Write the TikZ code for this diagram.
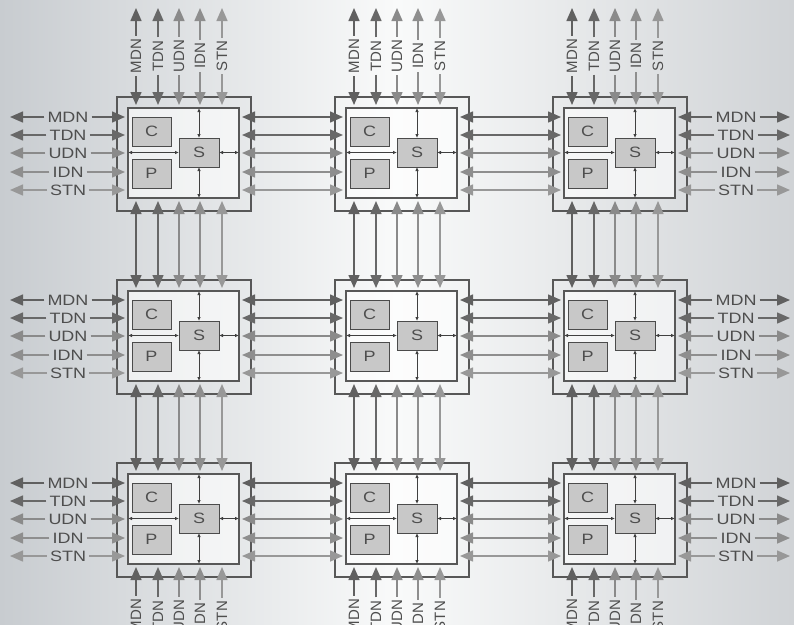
\documentclass[tikz,border=0pt]{standalone}
\usepackage{fontspec}
\usepackage{tikz}
\usetikzlibrary{arrows.meta,calc}
\newfontfamily\widefont{Liberation Sans}[FakeStretch=1.2]
\newfontfamily\plainfont{Liberation Sans}
\definecolor{bgedge}{RGB}{200,204,208}
\definecolor{bgedgeright}{RGB}{208,211,214}
\definecolor{bgmid}{RGB}{249,250,250}
\definecolor{framegray}{RGB}{88,88,88}
\definecolor{unitfill}{RGB}{200,200,200}
\definecolor{textgray}{RGB}{78,78,78}
\definecolor{ch0}{RGB}{96,96,96}
\definecolor{ch1}{RGB}{104,104,104}
\definecolor{ch2}{RGB}{138,138,138}
\definecolor{ch3}{RGB}{142,142,142}
\definecolor{ch4}{RGB}{152,152,152}

\tikzset{
  tileframe/.style={draw=framegray, line width=1.5pt, minimum width=134pt, minimum height=114pt,
    anchor=north west, inner sep=0pt, outer sep=0pt},
  tilecore/.style={draw=framegray, line width=1.3pt, fill=white, fill opacity=0.6,
    minimum width=111pt, minimum height=90pt, anchor=north west, inner sep=0pt, outer sep=0pt},
  unitbox/.style={draw=framegray!85!black, line width=1pt, fill=unitfill, text=textgray,
    font=\widefont\fontsize{15}{15}\selectfont, minimum width=39pt, minimum height=29pt,
    anchor=north west, inner sep=0pt, outer sep=0pt},
  chan/.style={line width=1.5pt, {Triangle[length=13pt,width=11pt]}-{Triangle[length=13pt,width=11pt]}},
  halfchan/.style={line width=1.5pt, -{Triangle[length=13pt,width=11pt]}},
  link/.style={draw=black!75, line width=0.9pt, {Latex[length=4pt,width=3.5pt]}-{Latex[length=4pt,width=3.5pt]}},
  sidelabel/.style={text=textgray, font=\widefont\fontsize{15}{15}\selectfont, inner sep=3pt},
  uplabel/.style={text=textgray, font=\plainfont\fontsize{15}{15}\selectfont, inner sep=3pt, rotate=90}
}

\begin{document}
\begin{tikzpicture}[x=1pt,y=-1pt]
  \useasboundingbox (0,0) rectangle (794,624);
  \clip (0,0) rectangle (794,624);
  \shade[left color=bgedge, right color=bgedgeright, middle color=bgmid] (0,0) rectangle (794,624);

  % tiles of the mesh
  \foreach \i in {0,1,2}{
    \foreach \j in {0,1,2}{
      \pgfmathsetmacro\tx{117+218*\i}
      \pgfmathsetmacro\ty{97+183*\j}
      \node[tileframe] (frame-\i-\j) at (\tx,\ty) {};
      \node[tilecore] (core-\i-\j) at (\tx+11,\ty+11) {};
      \node[unitbox] (C-\i-\j) at (\tx+15,\ty+20) {C};
      \node[unitbox] (P-\i-\j) at (\tx+15,\ty+62) {P};
      \node[unitbox, minimum width=40pt] (S-\i-\j) at (\tx+62,\ty+41) {S};
      \draw[link] (S-\i-\j.west -| core-\i-\j.west) -- (S-\i-\j.west);
      \draw[link] (S-\i-\j.east) -- (S-\i-\j.east -| core-\i-\j.east);
      \draw[link] (S-\i-\j.north) -- (S-\i-\j.north |- core-\i-\j.north);
      \draw[link] (S-\i-\j.south) -- (S-\i-\j.south |- core-\i-\j.south);
      \foreach \k/\cx/\cy in {0/19/20,1/41/38,2/62/56,3/83/75,4/105/93}{
        \coordinate (top-\i-\j-\k) at (\tx+\cx,\ty+8);
        \coordinate (bot-\i-\j-\k) at (\tx+\cx,\ty+104);
        \coordinate (lft-\i-\j-\k) at (\tx+8,\ty+\cy);
        \coordinate (rgt-\i-\j-\k) at (\tx+125,\ty+\cy);
      }
    }
  }

  % links between neighbouring tiles
  \foreach \k in {0,...,4}{
    \foreach \i/\ii in {0/1,1/2}{
      \foreach \j in {0,1,2}{
        \draw[chan, color=ch\k] (rgt-\i-\j-\k) -- (lft-\ii-\j-\k);
        \draw[chan, color=ch\k] (bot-\j-\i-\k) -- (top-\j-\ii-\k);
      }
    }
  }

  % networks leaving the mesh
  \foreach \k/\nm/\cx/\cy in {0/MDN/19/20,1/TDN/41/38,2/UDN/62/56,3/IDN/83/75,4/STN/105/93}{
    \foreach \j in {0,1,2}{
      \pgfmathsetmacro\ty{97+183*\j}
      \node[sidelabel] (west-\j-\k) at (68,\ty+\cy) {\nm};
      \coordinate (westend-\j-\k) at (10,\ty+\cy);
      \draw[halfchan, color=ch\k] (west-\j-\k) -- (westend-\j-\k);
      \draw[halfchan, color=ch\k] (west-\j-\k) -- (lft-0-\j-\k);
      \node[sidelabel] (east-\j-\k) at (736,\ty+\cy) {\nm};
      \coordinate (eastend-\j-\k) at (790,\ty+\cy);
      \draw[halfchan, color=ch\k] (east-\j-\k) -- (eastend-\j-\k);
      \draw[halfchan, color=ch\k] (east-\j-\k) -- (rgt-2-\j-\k);
    }
    \foreach \i in {0,1,2}{
      \pgfmathsetmacro\tx{117+218*\i}
      \node[uplabel] (north-\i-\k) at (\tx+\cx,56) {\nm};
      \coordinate (northend-\i-\k) at (\tx+\cx,8);
      \draw[halfchan, color=ch\k] (north-\i-\k) -- (northend-\i-\k);
      \draw[halfchan, color=ch\k] (north-\i-\k) -- (top-\i-0-\k);
      \node[uplabel] (south-\i-\k) at (\tx+\cx,616) {\nm};
      \draw[halfchan, color=ch\k] (south-\i-\k) -- (bot-\i-2-\k);
    }
  }
\end{tikzpicture}
\end{document}
